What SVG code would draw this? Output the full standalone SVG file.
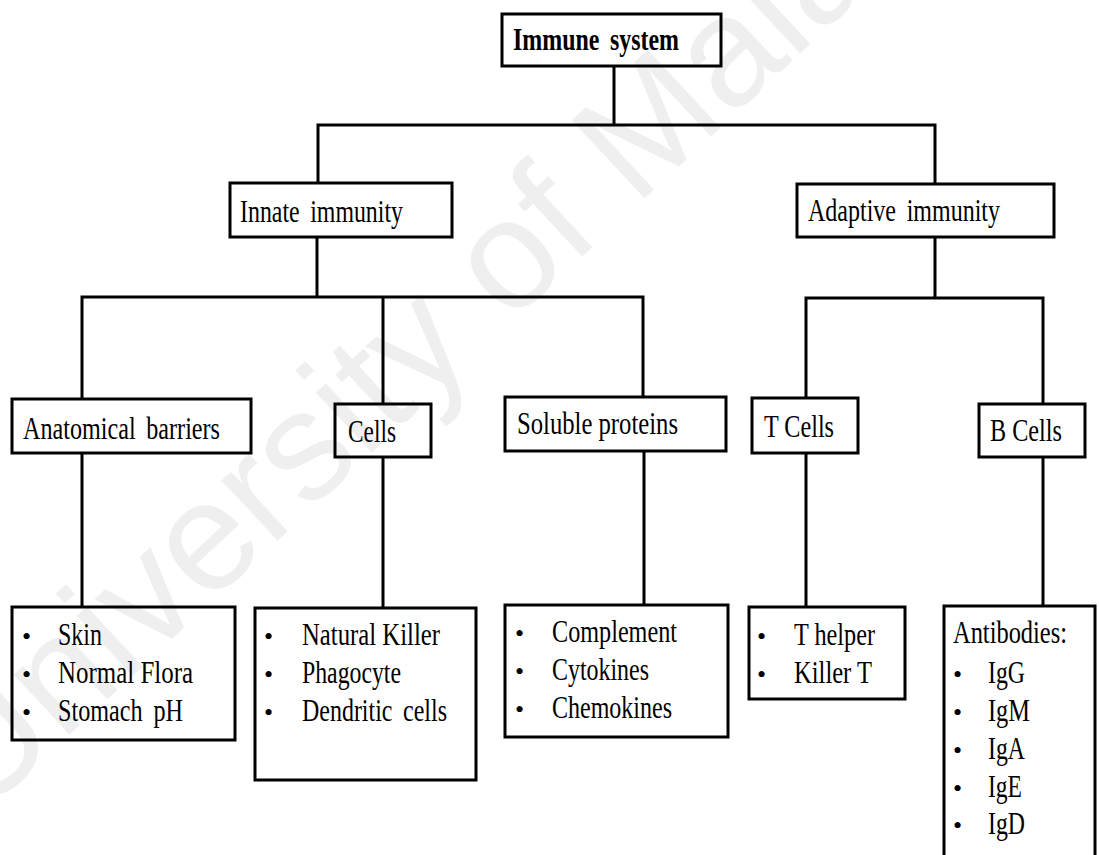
<svg xmlns="http://www.w3.org/2000/svg" width="1099" height="855" viewBox="0 0 1099 855">
  <style>
    .box { fill: none; stroke: #000; stroke-width: 3; }
    .wire { fill: none; stroke: #000; stroke-width: 3; stroke-linecap: square; }
    .lbl { font-family: "Liberation Serif", "Times New Roman", serif; font-size: 31px; fill: #000; }
    .wide { word-spacing: 6px; }
    .bold { font-weight: bold; }
    .dot { font-family: "Liberation Serif", "Times New Roman", serif; font-size: 26px; fill: #000; }
    .mark { font-family: "Liberation Sans", Arial, sans-serif; font-size: 155px; fill: #efefef; }
  </style>

  <rect width="1099" height="855" fill="#fff"/>

  <!-- faint background watermark -->
  <text class="mark" transform="translate(-20,818) rotate(-43)">University of Malaya</text>

  <!-- connectors -->
  <g id="connectors">
    <path class="wire" d="M614,67 V125 M318,125 H935 M318,125 V182 M935,125 V183"/>
    <path class="wire" d="M317,238 V297 M82,297 H643 M82,297 V398 M383,297 V403 M643,297 V396"/>
    <path class="wire" d="M935,238 V298 M806,298 H1043 M806,298 V397 M1043,298 V403"/>
    <path class="wire" d="M82,454 V606 M383,458 V607 M644,452 V604 M806,454 V606 M1043,458 V605"/>
  </g>

  <g id="immune-system">
    <rect class="box" x="502" y="14" width="219" height="52"/>
    <text class="lbl bold wide" x="513" y="50" textLength="166" lengthAdjust="spacingAndGlyphs">Immune system</text>
  </g>

  <g id="innate-immunity">
    <rect class="box" x="230" y="183" width="222" height="54"/>
    <text class="lbl wide" x="240" y="222" textLength="163" lengthAdjust="spacingAndGlyphs">Innate immunity</text>
  </g>

  <g id="adaptive-immunity">
    <rect class="box" x="797" y="184" width="257" height="53"/>
    <text class="lbl wide" x="808" y="221" textLength="192" lengthAdjust="spacingAndGlyphs">Adaptive immunity</text>
  </g>

  <g id="anatomical-barriers">
    <rect class="box" x="12" y="399" width="239" height="54"/>
    <text class="lbl wide" x="23" y="439" textLength="197" lengthAdjust="spacingAndGlyphs">Anatomical barriers</text>
  </g>

  <g id="cells">
    <rect class="box" x="335" y="404" width="96" height="53"/>
    <text class="lbl" x="348" y="442" textLength="48" lengthAdjust="spacingAndGlyphs">Cells</text>
  </g>

  <g id="soluble-proteins">
    <rect class="box" x="505" y="397" width="221" height="54"/>
    <text class="lbl" x="517" y="434" textLength="161" lengthAdjust="spacingAndGlyphs">Soluble proteins</text>
  </g>

  <g id="t-cells">
    <rect class="box" x="752" y="398" width="106" height="55"/>
    <text class="lbl" x="764" y="437" textLength="70" lengthAdjust="spacingAndGlyphs">T Cells</text>
  </g>

  <g id="b-cells">
    <rect class="box" x="979" y="404" width="106" height="53"/>
    <text class="lbl" x="990" y="441" textLength="72" lengthAdjust="spacingAndGlyphs">B Cells</text>
  </g>

  <g id="barrier-list">
    <rect class="box" x="12" y="607" width="223" height="133"/>
    <text class="dot" x="22" y="645">•</text>
    <text class="dot" x="22" y="683">•</text>
    <text class="dot" x="22" y="721">•</text>
    <text class="lbl" x="58" y="645" textLength="44" lengthAdjust="spacingAndGlyphs">Skin</text>
    <text class="lbl" x="58" y="683" textLength="135" lengthAdjust="spacingAndGlyphs">Normal Flora</text>
    <text class="lbl wide" x="58" y="721" textLength="125" lengthAdjust="spacingAndGlyphs">Stomach pH</text>
  </g>

  <g id="cell-list">
    <rect class="box" x="255" y="608" width="221" height="172"/>
    <text class="dot" x="264" y="645">•</text>
    <text class="dot" x="264" y="683">•</text>
    <text class="dot" x="264" y="721">•</text>
    <text class="lbl" x="302" y="645" textLength="138" lengthAdjust="spacingAndGlyphs">Natural Killer</text>
    <text class="lbl" x="302" y="683" textLength="99" lengthAdjust="spacingAndGlyphs">Phagocyte</text>
    <text class="lbl wide" x="302" y="721" textLength="145" lengthAdjust="spacingAndGlyphs">Dendritic cells</text>
  </g>

  <g id="protein-list">
    <rect class="box" x="505" y="605" width="223" height="132"/>
    <text class="dot" x="515" y="642">•</text>
    <text class="dot" x="515" y="680">•</text>
    <text class="dot" x="515" y="718">•</text>
    <text class="lbl" x="552" y="642" textLength="125" lengthAdjust="spacingAndGlyphs">Complement</text>
    <text class="lbl" x="552" y="680" textLength="97" lengthAdjust="spacingAndGlyphs">Cytokines</text>
    <text class="lbl" x="552" y="718" textLength="120" lengthAdjust="spacingAndGlyphs">Chemokines</text>
  </g>

  <g id="t-cell-list">
    <rect class="box" x="749" y="607" width="156" height="92"/>
    <text class="dot" x="757" y="645">•</text>
    <text class="dot" x="757" y="683">•</text>
    <text class="lbl" x="794" y="645" textLength="81" lengthAdjust="spacingAndGlyphs">T helper</text>
    <text class="lbl" x="794" y="683" textLength="78" lengthAdjust="spacingAndGlyphs">Killer T</text>
  </g>

  <g id="antibody-list">
    <rect class="box" x="944" y="606" width="151" height="262"/>
    <text class="lbl" x="953" y="643" textLength="114" lengthAdjust="spacingAndGlyphs">Antibodies:</text>
    <text class="dot" x="953" y="683">•</text>
    <text class="dot" x="953" y="721">•</text>
    <text class="dot" x="953" y="759">•</text>
    <text class="dot" x="953" y="797">•</text>
    <text class="dot" x="953" y="834">•</text>
    <text class="lbl" x="988" y="683" textLength="37" lengthAdjust="spacingAndGlyphs">IgG</text>
    <text class="lbl" x="988" y="721" textLength="42" lengthAdjust="spacingAndGlyphs">IgM</text>
    <text class="lbl" x="988" y="759" textLength="37" lengthAdjust="spacingAndGlyphs">IgA</text>
    <text class="lbl" x="988" y="797" textLength="34" lengthAdjust="spacingAndGlyphs">IgE</text>
    <text class="lbl" x="988" y="834" textLength="37" lengthAdjust="spacingAndGlyphs">IgD</text>
  </g>
</svg>
